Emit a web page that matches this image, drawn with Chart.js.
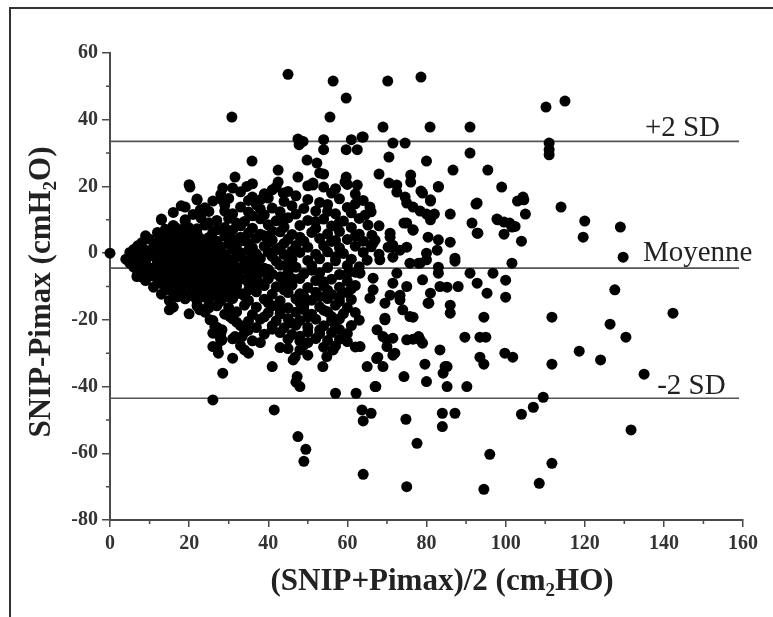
<!DOCTYPE html>
<html>
<head>
<meta charset="utf-8">
<script src="https://cdn.jsdelivr.net/npm/chart.js@4.4.1/dist/chart.umd.min.js"></script>
<style>
  html, body { margin: 0; padding: 0; background: #fff; }
  #wrap { position: relative; width: 773px; height: 617px; }
</style>
</head>
<body>
<div id="wrap">
  <canvas id="blandAltman" width="773" height="617"></canvas>
</div>

<script>
  // Limits of agreement (cmH2O)
  const upperLoA = 33.5;
  const meanDiff = -4.5;
  const lowerLoA = -43.5;
  const lineSpan = [0, 159];

  // axis ticks
  const xTicks = [0, 20, 40, 60, 80, 100, 120, 140, 160];
  const yTicks = [-80, -60, -40, -20, 0, 20, 40, 60];
  const xMinor = [10, 30, 50, 70, 90, 110, 130, 150];
  const yMinor = [50, 30, 10, -10, -30, -50, -70];

  // text
  const yTitle = ["SNIP-Pimax (cmH", "2", "O)"];
  const xTitle = ["(SNIP+Pimax)/2 (cm", "2", "HO)"];
  const lineLabels = ["+2 SD", "Moyenne", "-2 SD"];

  // [(SNIP+Pimax)/2, SNIP-Pimax] pairs
  const sparsePoints = [
    [30.8,40.8],[45,53.6],[56.4,51.6],[59.7,46.5],[55.6,40.8],
    [47.5,34.2],[48.8,33.5],[47.8,32.5],[54,34],[54,31],[61,34],[63.7,34.8],[59.7,31],[62.5,31],
    [35.9,27.6],[49.8,27.9],[52.3,27],[54,23.7],[42.5,24.9],[47.5,22.8],[31.6,22.8],[51.3,20.4],
    [54,19.8],[59.7,22.8],[59.4,21.3],[62.5,20.4],
    [70.2,51.6],[78.6,52.8],[69,37.8],[80.9,37.8],[91,37.8],[64,34.8],[71.5,33],[74.6,33],
    [70.5,28.8],[80,27.6],[91,30],[86.7,24.9],[95.5,24.9],[68,23.7],[76,23.4],[76,21.3],
    [70.5,21],[72.5,20.4],[72.5,18.3],[78.6,18.6],[83,19.8],[99,19.8],[81,15.6],[75,15],
    [76.6,13.8],[78.4,12.6],[80,11.7],[82,11.7],[86,11.7],[92.5,14.7],[91.5,9],[93,6],
    [97.8,10.2],[99.6,9.3],[99.6,5.7],[74.3,9],[76.6,6.9],[80.4,4.8],[82.7,0.9],[65.7,13.8],
    [64.5,11.4],[65.2,8.4],[66.2,5.4],[67,3.9],[70.8,4.8],[71.5,2.4],[73.3,0.9],[87.2,-1.5],
    [110.2,43.8],[115,45.6],[111,33],[111,31],[111,29.5],[104.4,16.8],[103,15.6],[105,11.7],
    [114,13.8],[120,9.6],[119.6,4.8],[129,7.8],[129.7,-1.2],[101,9],[102.4,8],[104,3.6],
    [101.6,-3],[100,-8.1],[127.6,-11],
    [100,-13.2],[111.7,-19.2],[126.4,-21.3],[130.4,-25.2],[99.8,-30],[101.8,-31.2],[111.7,-33.3],
    [118.6,-29.4],[124,-32],[135,-36.3],[109.5,-43.2],[107,-46.2],[104,-48.3],[131.7,-53],
    [111.7,-63],[108.5,-69],[142.3,-18],
    [96,-60.3],[94.5,-70.8],[75,-70],[77.6,-57],[74.8,-49.8],[84,-48],[87.2,-48],[84,-52],
    [94.5,-19.2],[89.7,-25.2],[93.5,-25.2],[95,-25.2],[83.4,-29],[93.5,-31.2],[94.5,-33.3],
    [72,-30],[79.6,-33.3],[85.2,-34],[84.2,-36],[74.3,-37],[80,-38.5],[85.2,-40],[90.2,-40],
    [86,-15.6],[86,-18],[80.6,-15],[78.4,-26],[76.6,-25.8],[75,-26],[70,-26],[69.5,-19.5],
    [26,-44],[41.5,-47],[47.5,-55],[49.5,-58.8],[49,-62.4],[64,-66.3],[57,-42],[62.2,-42],
    [67.2,-40],[63.7,-47],[66,-48],[64,-50.3],[47,-38.7],[48,-40],
    [92.8,15],[92.8,6],[98,10],[101.6,7.8],[104.6,16],[91,-6],[92.8,-9],[95.3,-12],[83.4,-10],
    [79,-8],[88,-10],[96.8,-6],[87.2,-2.4],
    [83,4],[83,20],[79,18],[81,16],[74.6,16.8],[76.6,7],[81,10],[75,9],[86,3.3],[80,-2],[78,-3],
    [70.8,6],[70.3,1.8],
    [66.5,-7.5],[66.5,-11],[65.7,-13.5],[69.5,-15],[69.5,-20],[67.5,-23],[69,-25],[71.5,-25.5],
    [78,-25],[79,-27],[73.3,-14],[74,-17],[75.8,-19],[76.6,-19.2],[71.5,-9],[72.5,-6],[75,-10],
    [70.8,-12.6],[73.3,-12.6],[81,-12],[80.4,-15],[83,-6],[85.2,-10.2],[66.5,3],[71.3,1.8],
    [75,1.8],[71.5,-1.2],[68.2,-2],[75.8,-3],[78.4,-3],[80,0],[83,-4.2],[63.2,-6],
    [65,-34],[69,-34],[67.7,-31.2],[67,-40],[84.7,-34],
    [41,-34],[28.5,-36],[31,-31.5],[34,-29],[35,-30],[31.6,-25],[33.4,-25],[30.3,-19],[32,-20.7],
    [28.3,-23],[28.3,-26],[46.8,-31.2],[48,-29],[50,-30.6],[47.3,-37],[53.8,-34],[54.8,-31],
    [63.2,-28],[46.3,-32],[56.4,-29],[70,-28],[71.5,-30.6],[67.4,-31.6],[26,-28],[27.4,-30],
    [27.8,-25],[26,-24],[25.3,-20],[15,-17],[22.7,-17],
    [0,0],[7,1.8],[5,-2],[6.8,-7],[13,10],[12.6,5],[16.4,7.8],[20.2,19.8],[22,16],[19,13.8],
    [19,10],[15.7,-16],[22.2,-16],[24.8,-16],[26.5,-22],
    [28.5,19.5],[34.6,20],[36,16.8],[38,16],[41,19],[42.5,21.3],[43.8,18],[53,24],[51.3,21],
    [22.8,13],[28.3,16]
  ];

  const densePoints = [
    [20,20.5],[31,19.5],[36,20.8],[42,19.8],[50,20.2],[57,19.3],[60,20.6],
    [28,17.6],[33,18.4],[39,17.8],[45,18.5],[47,17.2],[56,18],[62,17.7],
    [22,16.2],[26,15.6],[30,16.4],[35,15.8],[40,16.5],[44,15.5],[50,16.1],[53,15.2],[58,16.3],[64,15.8],
    [18,14.2],[24,13.6],[29,14.4],[33,13.8],[37,14.5],[41,13.5],[46,14.2],[49,13.4],[55,14.6],[60,13.7],[62,14.8],
    [16,12.2],[21,11.6],[25,12.5],[31,11.8],[35,12.3],[39,11.5],[43,12.4],[47,11.7],[52,12.6],[57,11.8],[61,12.1],[66,12.4],
    [13,10.2],[19,9.6],[23,10.5],[27,9.8],[30,10.4],[34,9.5],[38,10.3],[42,9.7],[45,10.6],[50,9.8],[54,10.2],[59,9.6],[63,10.4],
    [16,8.3],[20,7.6],[24,8.4],[29,7.7],[33,8.2],[36,7.5],[40,8.5],[44,7.8],[48,8.3],[52,7.4],[56,8.1],[61,7.7],[68,8.2],
    [12,6.2],[15,5.6],[18,6.4],[22,5.8],[26,6.3],[30,5.5],[35,6.1],[38,5.7],[43,6.4],[46,5.6],[51,6.2],[55,5.8],[58,6.5],[63,5.7],
    [10,4.2],[14,3.7],[17,4.4],[20,3.8],[23,4.3],[27,3.6],[31,4.1],[34,3.7],[37,4.5],[41,3.9],[45,4.2],[49,3.6],[53,4.4],[57,3.8],[60,4.1],[64,3.6],
    [7,2.2],[11,1.7],[14,2.4],[17,1.8],[19,2.3],[22,1.6],[25,2.2],[28,1.9],[32,2.4],[36,1.6],[39,2.1],[43,1.7],[47,2.3],[50,1.8],[54,2.2],[58,1.6],[62,2.1],[66,1.9],
    [5,0.2],[8,-0.3],[10,0.4],[13,-0.2],[15,0.3],[18,-0.4],[20,0.2],[23,-0.1],[26,0.4],[29,-0.3],[33,0.1],[37,-0.2],[40,0.3],[44,-0.4],[48,0.2],[52,-0.3],[55,0.4],[59,-0.1],[64,0.2],[68,-0.3],
    [4,-1.8],[6,-2.3],[9,-1.7],[12,-2.2],[14,-1.6],[16,-2.4],[19,-1.9],[21,-2.2],[24,-1.7],[27,-2.3],[30,-1.8],[34,-2.1],[38,-1.6],[42,-2.4],[46,-1.9],[50,-2.2],[53,-1.7],[57,-2.3],[61,-1.8],[65,-2.1],
    [6,-4.2],[8,-3.7],[11,-4.4],[13,-3.8],[16,-4.1],[18,-3.6],[21,-4.3],[23,-3.9],[26,-4.4],[29,-3.7],[32,-4.2],[36,-3.8],[39,-4.5],[43,-3.6],[47,-4.2],[51,-3.8],[55,-4.3],[60,-3.7],[63,-4.1],
    [7,-6.2],[10,-5.7],[12,-6.4],[15,-5.8],[17,-6.3],[20,-5.6],[22,-6.2],[25,-5.9],[28,-6.4],[31,-5.7],[35,-6.1],[38,-5.8],[41,-6.3],[45,-5.6],[49,-6.2],[53,-5.9],[58,-6.4],[62,-5.7],
    [9,-8.2],[12,-7.6],[14,-8.4],[17,-7.8],[19,-8.3],[22,-7.7],[24,-8.1],[27,-7.6],[30,-8.4],[33,-7.8],[37,-8.2],[40,-7.7],[44,-8.3],[48,-7.6],[52,-8.2],[56,-7.8],[60,-8.4],
    [11,-10.2],[14,-9.7],[18,-10.4],[21,-9.8],[24,-10.3],[26,-9.6],[29,-10.2],[32,-9.8],[36,-10.4],[39,-9.7],[42,-10.1],[46,-9.6],[50,-10.3],[54,-9.8],[58,-10.2],[62,-9.7],
    [13,-12.3],[16,-11.7],[20,-12.2],[23,-11.6],[26,-12.4],[29,-11.8],[33,-12.1],[37,-11.6],[41,-12.3],[45,-11.8],[48,-12.2],[52,-11.7],[56,-12.4],[60,-11.8],
    [15,-14.2],[19,-13.7],[22,-14.3],[25,-13.8],[28,-14.4],[31,-13.6],[35,-14.2],[39,-13.8],[43,-14.3],[47,-13.7],[51,-14.1],[55,-13.6],[58,-14.4],[61,-13.9],
    [16,-16.2],[22,-15.7],[25,-16.4],[27,-15.8],[30,-16.3],[34,-15.6],[37,-16.2],[41,-15.8],[45,-16.4],[49,-15.7],[53,-16.1],[57,-15.6],[60,-16.3],
    [20,-18.2],[24,-17.7],[29,-18.3],[32,-17.6],[36,-18.4],[40,-17.8],[43,-18.2],[47,-17.7],[51,-18.3],[55,-17.6],[59,-18.1],[62,-17.8],
    [26,-20.2],[31,-19.7],[35,-20.4],[38,-19.8],[42,-20.3],[45,-19.6],[48,-20.2],[52,-19.8],[56,-20.4],[58,-19.7],[63,-20.1],
    [27,-22.2],[33,-21.7],[37,-22.3],[41,-21.8],[44,-22.4],[47,-21.6],[50,-22.2],[54,-21.8],[57,-22.3],[61,-21.7],
    [28,-24.2],[34,-23.7],[39,-24.3],[43,-23.8],[46,-24.4],[50,-23.6],[53,-24.2],[56,-23.8],[60,-24.1],
    [28,-26.2],[31,-25.7],[36,-26.3],[45,-25.8],[48,-26.4],[52,-25.6],[55,-26.2],[58,-25.8],
    [27,-28.2],[33,-27.7],[43,-28.3],[49,-27.6],[54,-28.2],[57,-27.8],[62,-28.1]
  ];

  // the packed core near the origin, between the rows above
  const corePoints = [
    [9,5.2],[13,4.8],[16,5.3],[19,4.9],[21,5.2],[25,4.7],[29,5.1],[33,4.8],
    [8,3.1],[12,2.8],[15,3.2],[18,2.9],[21,3.1],[24,2.9],[26,3.2],[30,2.8],[35,3.0],[40,3.1],[44,2.9],
    [6,1.1],[9,0.9],[12,1.2],[16,0.8],[18,1.1],[21,0.9],[24,1.2],[27,0.9],[31,1.1],[35,0.8],[42,1.0],
    [7,-1.0],[11,-0.9],[14,-1.2],[17,-0.8],[20,-1.1],[22,-0.9],[25,-1.2],[28,-0.8],[32,-1.1],[36,-0.9],[41,-1.0],
    [5,-3.0],[9,-2.9],[12,-3.2],[15,-2.8],[17,-3.1],[20,-2.9],[22,-3.2],[25,-2.8],[28,-3.1],[31,-2.9],[34,-3.2],[37,-2.8],[45,-3.0],
    [9,-5.1],[11,-4.9],[14,-5.2],[16,-4.8],[19,-5.1],[21,-4.9],[24,-5.2],[27,-4.8],[30,-5.1],[33,-4.9],[37,-5.2],[40,-4.9],
    [8,-7.1],[11,-6.9],[13,-7.2],[16,-6.8],[18,-7.1],[21,-6.9],[23,-7.2],[26,-6.8],[29,-7.1],[32,-6.9],[36,-7.0],[43,-7.1],
    [13,-9.1],[16,-8.9],[20,-9.2],[23,-8.8],[25,-9.1],[28,-8.9],[31,-9.2],[35,-8.9],[38,-9.0],
    [15,-11.0],[18,-10.9],[22,-11.2],[25,-10.8],[28,-11.1],[31,-10.9],[35,-11.1],[44,-11.0],[55,-11.1],
    [17,-13.1],[21,-12.9],[24,-13.2],[27,-12.8],[30,-13.1],[34,-12.9],[49,-13.0],[58,-13.1],
    [43,-17],[49,-16.9],[54,-17.1],[39,-19.1],[50,-19.1],[46,-21],[53,-23],[58,-22.9],[48,-24.9],
    [14,7.2],[18,7.1],[22,7.3],[27,7.0],[31,6.9],[25,9.1],[32,9.0],[36,11.2],[29,12.6]
  ];

  // extra fill in the looser middle band (X 35-62)
  const midPoints = [
    [38,13.2],[44,10.4],[48,4.8],[52,9.5],[56,3.5],[41,6.6],[46,0.6],[51,-5.1],[57,-1.1],
    [60,-6.2],[44,-9.2],[48,-14.8],[53,-13],[56,-19],[41,-22.8],[38,-26.8],[50,-26.8],
    [60,-26.5],[45,-28.6],[39,5.2],[55,12.5],[58,9.3],[62,5.1],[61,-10.7],[40,-14.9],
    [35,-23.1],[46,-7.6],[54,-8.6]
  ];

  const axisColor = "#4a4a4a";
  const serif = "'Liberation Serif', 'Times New Roman', serif";

  function toXY(list) {
    return list.map(function (p) { return { x: p[0], y: p[1] }; });
  }

  function hLine(value) {
    return {
      type: "line",
      data: [{ x: lineSpan[0], y: value }, { x: lineSpan[1], y: value }],
      borderColor: "#555",
      borderWidth: 1.6,
      pointRadius: 0,
      order: 2,
    };
  }

  // text with a subscript part, centred on (cx, cy)
  function drawSubText(ctx, parts, cx, cy, size) {
    const main = "bold " + size + "px " + serif;
    const sub = "bold " + Math.round(size * 0.62) + "px " + serif;
    ctx.font = main;
    const w0 = ctx.measureText(parts[0]).width;
    const w2 = ctx.measureText(parts[2]).width;
    ctx.font = sub;
    const w1 = ctx.measureText(parts[1]).width;
    let x = cx - (w0 + w1 + w2) / 2;
    ctx.textAlign = "left";
    ctx.textBaseline = "middle";
    ctx.font = main;
    ctx.fillText(parts[0], x, cy);
    x += w0;
    ctx.font = sub;
    ctx.fillText(parts[1], x, cy + size * 0.28);
    x += w1;
    ctx.font = main;
    ctx.fillText(parts[2], x, cy);
  }

  const decorPlugin = {
    id: "decor",
    afterDraw(chart) {
      const ctx = chart.ctx;
      const xs = chart.scales.x;
      const ys = chart.scales.y;
      const area = chart.chartArea;
      ctx.save();

      // outer frame (left and top)
      ctx.strokeStyle = "#333";
      ctx.lineWidth = 2;
      ctx.beginPath();
      ctx.moveTo(10, 617);
      ctx.lineTo(10, 8);
      ctx.lineTo(773, 8);
      ctx.stroke();

      // minor ticks
      ctx.strokeStyle = axisColor;
      ctx.lineWidth = 1.5;
      ctx.beginPath();
      xMinor.forEach(function (v) {
        const px = xs.getPixelForValue(v);
        ctx.moveTo(px, area.bottom);
        ctx.lineTo(px, area.bottom + 4);
      });
      yMinor.forEach(function (v) {
        const py = ys.getPixelForValue(v);
        ctx.moveTo(area.left, py);
        ctx.lineTo(area.left - 4, py);
      });
      ctx.stroke();

      // line labels
      ctx.fillStyle = "#222";
      ctx.font = "29px " + serif;
      ctx.textAlign = "left";
      ctx.textBaseline = "alphabetic";
      ctx.fillText(lineLabels[0], xs.getPixelForValue(135.2), ys.getPixelForValue(upperLoA) - 5);
      ctx.fillText(lineLabels[1], xs.getPixelForValue(134.7), ys.getPixelForValue(meanDiff) - 7);
      ctx.fillText(lineLabels[2], xs.getPixelForValue(138.3), ys.getPixelForValue(lowerLoA) - 4);

      // axis titles
      drawSubText(ctx, xTitle, 442, 582, 31);
      ctx.save();
      ctx.translate(42, 292);
      ctx.rotate(-Math.PI / 2);
      drawSubText(ctx, yTitle, 0, 0, 31);
      ctx.restore();

      ctx.restore();
    },
  };

  const tickFont = { family: serif, weight: "bold", size: 20 };

  new Chart(document.getElementById("blandAltman").getContext("2d"), {
    type: "scatter",
    data: {
      datasets: [
        {
          data: toXY(sparsePoints.concat(densePoints, corePoints, midPoints)),
          backgroundColor: "#000",
          borderWidth: 0,
          pointRadius: 5.5,
          clip: false,
          order: 1,
        },
        hLine(upperLoA),
        hLine(meanDiff),
        hLine(lowerLoA),
      ],
    },
    options: {
      responsive: false,
      animation: false,
      layout: { padding: { left: 10, top: 53, right: 30, bottom: 0 } },
      plugins: { legend: { display: false }, tooltip: { enabled: false } },
      scales: {
        x: {
          type: "linear",
          min: xTicks[0],
          max: xTicks[xTicks.length - 1],
          afterBuildTicks(s) { s.ticks = xTicks.map(function (v) { return { value: v }; }); },
          afterFit(s) { s.height = 97; },
          ticks: { font: tickFont, color: "#333", padding: 5, maxRotation: 0 },
          grid: { drawOnChartArea: false, tickLength: 7, color: axisColor, lineWidth: 1.5 },
          border: { color: axisColor, width: 2 },
        },
        y: {
          min: yTicks[0],
          max: yTicks[yTicks.length - 1],
          afterBuildTicks(s) { s.ticks = yTicks.map(function (v) { return { value: v }; }); },
          afterFit(s) { s.width = 100; },
          ticks: { font: tickFont, color: "#333", padding: 4 },
          grid: { drawOnChartArea: false, tickLength: 8, color: axisColor, lineWidth: 1.5 },
          border: { color: axisColor, width: 2 },
        },
      },
    },
    plugins: [decorPlugin],
  });
</script>
</body>
</html>
